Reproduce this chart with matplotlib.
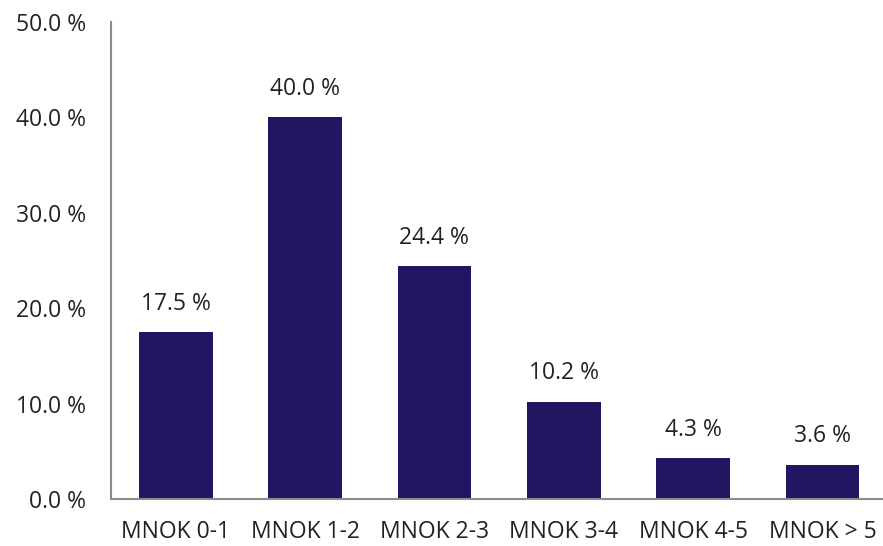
import matplotlib.pyplot as plt
from matplotlib.ticker import FuncFormatter

categories = ["MNOK 0-1", "MNOK 1-2", "MNOK 2-3", "MNOK 3-4", "MNOK 4-5", "MNOK > 5"]
shares = [17.5, 40.0, 24.4, 10.2, 4.3, 3.6]

plt.rcParams['font.family'] = ['Open Sans', 'DejaVu Sans']

fig = plt.figure(figsize=(8.83, 5.46), dpi=100)
ax = fig.add_axes([0.1257, 0.0861, 0.879, 0.8736])

x = range(len(categories))
ax.bar(x, shares, width=0.57, color="#221662")

for xi, v in zip(x, shares):
    ax.text(xi, v + 1.7, f"{v:.1f} %", ha="center", va="bottom", fontsize=16.5, color="#222222")

ax.set_xlim(-0.5, len(categories) - 0.5)
ax.set_ylim(0, 50)
ax.set_yticks([0, 10, 20, 30, 40, 50])
ax.yaxis.set_major_formatter(FuncFormatter(lambda v, p: f"{v:.1f} %"))
ax.set_xticks(list(x))
ax.set_xticklabels(categories)
ax.tick_params(axis="both", length=0, labelsize=16.5, colors="#222222")
ax.tick_params(axis="x", pad=15)
ax.tick_params(axis="y", pad=18)

for s in ["top", "right"]:
    ax.spines[s].set_visible(False)
for s in ["left", "bottom"]:
    ax.spines[s].set_color("#8c8c8c")
    ax.spines[s].set_linewidth(1.5)

fig.savefig("out.png", dpi=100)
